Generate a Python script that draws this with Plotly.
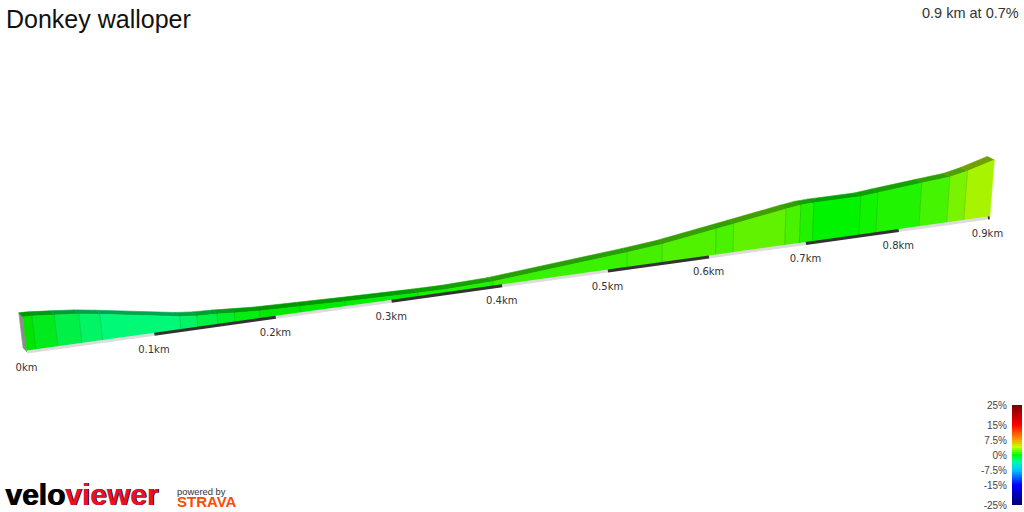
import plotly.graph_objects as go

TITLE = "Donkey walloper"
SUMMARY = "0.9 km at 0.7%"

# Profile: boundary distance (km) and elevation above road base (m)
distance_km = [0, .0069, .0239, .0426, .0589, .1214, .1353, .1517, .1659, .1867, .2209, .2594,
               .3234, .3494, .3915, .5186, .5529, .6064, .6242, .6776, .693, .7066, .7564,
               .7747, .8221, .8531, .8724, .902]
elevation_m = [5.83, 5.79, 5.48, 5.10, 4.58, 2.40, 2.10, 1.95, 1.75, 1.48, 1.30, 1.08,
               .81, .76, 1.0, 3.0, 3.64, 5.18, 5.7, 7.28, 7.68, 7.78, 7.82,
               8.15, 8.95, 9.45, 10.2, 11.8]
segment_colors = ["#00e400", "#00ea1c", "#00f048", "#00f464", "#00fa78", "#00f562", "#00f244", "#00f028",
                  "#00ee10", "#00ea00", "#00ea00", "#00f000", "#14f400", "#20f400", "#38f200", "#44f000",
                  "#50f200", "#48f200", "#60f200", "#48f200", "#22f200", "#00f400", "#10f400", "#20f400",
                  "#44f400", "#78f400", "#a8f400"]
tick_km = [0, .1, .2, .3, .4, .5, .6, .7, .8, .9]
tick_labels = ["0km", "0.1km", "0.2km", "0.3km", "0.4km", "0.5km", "0.6km", "0.7km", "0.8km", "0.9km"]
strip_edges = [0, .1, .2, .3, .4, .5, .6, .7, .8, .9, .902]
strip_colors = ["#dcdcdc", "#333333"] * 5

legend_ticks = [25, 15, 7.5, 0, -7.5, -15, -25]
legend_labels = ["25%", "15%", "7.5%", "0%", "-7.5%", "-15%", "-25%"]
legend_levels = [i - 25 for i in range(51)]
legend_scale = [[0, "#00006e"], [.2, "#0000ff"], [.35, "#00c8ff"], [.43, "#00ffa0"], [.5, "#00ff00"],
                [.58, "#c8ff00"], [.65, "#ffa000"], [.8, "#ff0000"], [1, "#780000"]]


# Oblique perspective view of the road
def base_point(d):
    x = 27 + 1306 * d / (1 + .248 * d)
    return x, 352 - .1394 * (x - 27)


def top_point(d, e):
    x, y = base_point(d)
    h = e * 6 / (1 + .248 * d)
    return x + h * (x - 604) / 4805, y - h


def back(p):
    t = (p[0] - 27) / 961
    return p[0] - 4 - 3 * t, p[1] - 4.2 + .7 * t


def dim(c, f=.66):
    r, g, b = (int(c[i:i + 2], 16) for i in (1, 3, 5))
    return f"rgb({r * f:.0f},{g * f:.0f},{b * f:.0f})"


def poly(pts, fill, line=None):
    return go.Scatter(x=[p[0] for p in pts] + [pts[0][0]], y=[p[1] for p in pts] + [pts[0][1]],
                      mode="lines", fill="toself", fillcolor=fill,
                      line=dict(color=line or fill, width=.6), hoverinfo="skip", showlegend=False)


fig = go.Figure()
front = [top_point(d, e) for d, e in zip(distance_km, elevation_m)]
bases = [base_point(d) for d in distance_km]

# start cap
fig.add_trace(poly([front[0], back(front[0]), back(bases[0]), bases[0]], "#8c8c8c"))
for i, c in enumerate(segment_colors):
    fig.add_trace(poly([front[i], front[i + 1], back(front[i + 1]), back(front[i])], dim(c)))
    fig.add_trace(poly([bases[i], bases[i + 1], front[i + 1], front[i]], c))
for p, q in zip(bases[1:-1], front[1:-1]):
    fig.add_trace(go.Scatter(x=[p[0], q[0]], y=[p[1], q[1]], mode="lines", hoverinfo="skip",
                             line=dict(color="rgba(0,90,0,.22)", width=1), showlegend=False))
for i, c in enumerate(strip_colors):
    a, b = base_point(strip_edges[i]), base_point(strip_edges[i + 1])
    fig.add_trace(go.Scatter(x=[a[0], b[0]], y=[a[1], b[1]], mode="lines", hoverinfo="skip",
                             line=dict(color=c, width=3), showlegend=False))
tick_pts = [base_point(d) for d in tick_km]
fig.add_trace(go.Scatter(x=[p[0] - .5 for p in tick_pts], y=[p[1] + 16 for p in tick_pts], mode="text",
                         text=tick_labels, textposition="middle center", hoverinfo="skip",
                         textfont=dict(family="DejaVu Sans", size=10, color="#333333"), showlegend=False))

fig.add_trace(go.Heatmap(x=[0, 1], y=legend_levels, z=[[v, v] for v in legend_levels], xaxis="x2", yaxis="y2",
                         colorscale=legend_scale, zmin=-25, zmax=25, showscale=False, hoverinfo="skip"))

fig.update_layout(
    width=1024, height=512, margin=dict(l=0, r=0, t=0, b=0, pad=0, autoexpand=False), paper_bgcolor="white",
    plot_bgcolor="white",
    xaxis=dict(range=[0, 1024], visible=False, domain=[0, 1]),
    yaxis=dict(range=[512, 0], visible=False, domain=[0, 1]),
    xaxis2=dict(domain=[1012 / 1024, 1022 / 1024], range=[0, 1], visible=False, anchor="y2"),
    yaxis2=dict(domain=[7 / 512, 107 / 512 + .0], range=[-25, 25], anchor="x2", side="left",
                tickvals=legend_ticks, ticktext=legend_labels, showgrid=False, zeroline=False,
                showline=False, ticks="", ticklabelstandoff=4,
                tickfont=dict(family="Liberation Sans", size=10, color="#444444")),
    annotations=[
        dict(text=TITLE, xref="paper", yref="paper", x=4 / 1024, y=1 - 19 / 512, xanchor="left", yanchor="middle",
             showarrow=False, font=dict(family="Liberation Sans", size=25, color="#111111")),
        dict(text=SUMMARY, xref="paper", yref="paper", x=1021 / 1024, y=1 - 13 / 512, xanchor="right",
             yanchor="middle", showarrow=False, font=dict(family="Liberation Sans", size=14.5, color="#333333")),
        dict(text="<b>velo<span style='color:#e8102a'>viewer</span></b>", xref="paper", yref="paper", x=3 / 1024,
             y=1 - 494 / 512, xanchor="left", yanchor="middle", showarrow=False,
             font=dict(family="Liberation Sans", size=30, color="#000000", shadow="1px 0 0 currentcolor")),
        dict(text="powered by<br><b><span style='font-size:15px;color:#fc4c02'>STRAVA</span></b>", xref="paper",
             yref="paper", x=175 / 1024, y=1 - 498 / 512, xanchor="left", yanchor="middle", align="left",
             showarrow=False, font=dict(family="Liberation Sans", size=9.4, color="#333333")),
    ],
)
fig.write_html("out.html", config=dict(displayModeBar=False), post_script="document.body.style.margin='0'")
